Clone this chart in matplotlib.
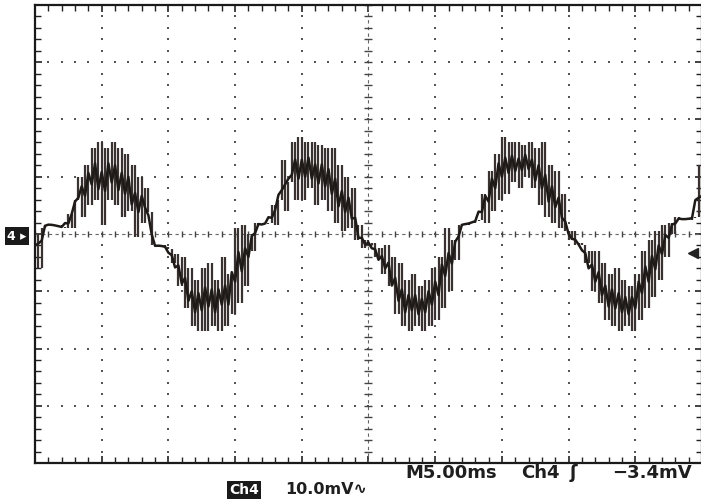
import numpy as np
import matplotlib
matplotlib.use('Agg')
import matplotlib.pyplot as plt
from matplotlib.ticker import MultipleLocator

# Osciloscopio: 5 ms/div, 10 mV/div, muestras cada 0.25 ms
sample_ms = 0.25
trace_mv = [
    0, -6, 1, 1.5, 1.8, 1.6, 1.4, 1.5, 1.2, 1.0,
    3.5, 1, 6, 10, 3, 12, 5, 15, 6, 16, 1.5, 15, 6, 16, 5, 15, 3, 14,
    4, 12, -0.5, 10, 2, 8, 3.8, -2, -2, -2.2, -1.9, -2.2,
    -2.6, -5, -3.5, -9, -4, -13, -6, -16, -8, -17,
    -6, -17, -5, -16, -8, -17, -4, -16, -7, -14, 1, -12, 1.5, -9, 0,
    -3, 2, 1.5, 1.7, 1.8, 2.0, 5, 1.5,
    6, 13, 4, 9, 16, 6, 17, 6, 16, 8, 16, 5, 15.5, 6, 15, 4, 15, 2,
    12, 0.5, 10, 1, 8, -1, 1.5, -2.5, -1,
    -2, -1.5, -4, -2.5, -7, -2, -9, -4, -14, -5, -16,
    -8, -17, -7, -16, -9, -17, -8, -16, -6, -15, -4, -13, 1, -10,
    -1, -4.5, 1.5, 1.7, 1.6, 1.9, 2.0, 2.2, 2.5,
    7, 2, 11, 4, 14, 6, 17, 7, 16, 9, 16, 8, 15.5, 10, 16, 8, 15,
    5, 16, 3, 12, 2, 11, 1, 7, 0.5, -1, 0.5, -2, -1.5,
    -2, -5, -3, -10, -3, -12, -5, -15, -7, -16, -6,
    -17, -8, -16, -9, -17, -7, -15, -3, -13, -1, -11, 0.5, -8, 1.5, -4,
    2, 0, 3, 2.5, 2.6, 2.7, 2.5, 2.8, 3, 12, 4,
]
time_ms = np.arange(len(trace_mv)) * sample_ms

ms_per_div = 5
mv_per_div = 10
trigger_mv = -3.4

W, H = 701, 501
fig = plt.figure(figsize=(W / 100, H / 100), dpi=100)
fig.patch.set_facecolor('white')
ax = fig.add_axes([35 / W, (H - 463) / H, 667 / W, 458 / H])
ax.set_xlim(0, 10 * ms_per_div)
ax.set_ylim(-4 * mv_per_div, 4 * mv_per_div)

# reticula punteada
grid_c = '#555555'
minor_x = np.arange(0, 50.01, 1)
minor_y = np.arange(-40, 40.01, 2)
for gx in np.arange(5, 50, 5):
    if gx == 25:
        continue
    ax.scatter(np.full(minor_y.size, gx), minor_y, s=2.5, marker='s', color=grid_c, lw=0)
for gy in np.arange(-30, 31, 10):
    if gy == 0:
        continue
    ax.scatter(minor_x, np.full(minor_x.size, gy), s=2.5, marker='s', color=grid_c, lw=0)

# ejes centrales con marcas
ax.axhline(0, color='#666666', lw=0.8, ls=(0, (3, 3)))
ax.axvline(25, color='#666666', lw=0.8, ls=(0, (3, 3)))
ax.plot(np.full(minor_y.size, 25), minor_y, ls='none', marker='_', ms=6, mew=1, color='#444444')
ax.plot(minor_x, np.zeros(minor_x.size), ls='none', marker='|', ms=5, mew=1, color='#444444')

# senal: cada salto entre muestras se dibuja como trazo vertical (como en la pantalla)
trace = np.array(trace_mv, dtype=float)
ax.vlines(time_ms[1:], trace[:-1], trace[1:], color='#3a3230', lw=1.6)
core = np.convolve(np.pad(trace, 1, mode='edge'), np.ones(3) / 3, mode='same')[1:-1]
ax.plot(time_ms, core, color='#1e1a18', lw=1.8)

# marcador de nivel de disparo
ax.plot([49.35], [trigger_mv], marker='<', ms=7, color='#222222', clip_on=False)

ax.xaxis.set_major_locator(MultipleLocator(5))
ax.xaxis.set_minor_locator(MultipleLocator(1))
ax.yaxis.set_major_locator(MultipleLocator(10))
ax.yaxis.set_minor_locator(MultipleLocator(2))
ax.tick_params(which='both', direction='in', top=True, right=True,
               labelbottom=False, labelleft=False, color='#222222')
ax.tick_params(which='major', length=5, width=1.2)
ax.tick_params(which='minor', length=4, width=1)
for s in ax.spines.values():
    s.set_linewidth(1.6)
    s.set_color('#1a1a1a')

def px(x, y):
    return x / W, 1 - y / H

# marcador del canal a la izquierda
fig.text(*px(7, 236), '4 ▸', color='white', fontsize=9, fontweight='bold', va='center', ha='left',
         bbox=dict(boxstyle='square,pad=0.2', fc='#1a1a1a', ec='none'))

# textos inferiores
txt = dict(color='#1e1e1e', fontweight='bold', va='baseline', ha='left', family='DejaVu Sans')
fig.text(*px(405, 478), 'M5.00ms', fontsize=13, **txt)
fig.text(*px(521, 478), 'Ch4', fontsize=13, **txt)
fig.text(*px(570, 478), 'ʃ', fontsize=13, **txt)
fig.text(*px(612, 478), '−3.4mV', fontsize=13, **txt)
fig.text(*px(229, 494), 'Ch4', fontsize=10, color='white', fontweight='bold', va='baseline', ha='left',
         bbox=dict(boxstyle='square,pad=0.15', fc='#1a1a1a', ec='none'))
fig.text(*px(285, 494), '10.0mV∿', fontsize=11.5, **txt)

fig.savefig('out.png', dpi=100)
